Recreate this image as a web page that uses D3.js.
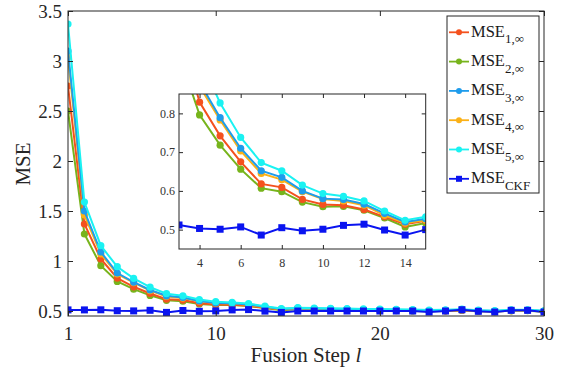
<!DOCTYPE html>
<html>
<head>
<meta charset="utf-8">
<script src="https://cdn.jsdelivr.net/npm/d3@7/dist/d3.min.js"></script>
<style>
  html, body { margin: 0; padding: 0; background: #fff; }
  svg { display: block; }
  text { font-family: "Liberation Serif", "DejaVu Serif", serif; }
</style>
</head>
<body>
<svg id="chart" width="562" height="369"></svg>
<script>
// ---------- data ----------
const steps = [1,2,3,4,5,6,7,8,9,10,11,12,13,14,15,16,17,18,19,20,21,22,23,24,25,26,27,28,29,30];
const mse1 = [2.75,1.37,1.02,0.829,0.742,0.675,0.618,0.609,0.578,0.565,0.563,0.552,0.533,0.514,0.523,
              0.516,0.513,0.510,0.508,0.506,0.505,0.503,0.499,0.502,0.507,0.500,0.496,0.504,0.505,0.495];
const mse2 = [2.50,1.27,0.953,0.796,0.718,0.656,0.607,0.598,0.571,0.559,0.560,0.550,0.530,0.507,0.517,
              0.512,0.510,0.507,0.505,0.504,0.503,0.501,0.497,0.500,0.505,0.498,0.494,0.502,0.503,0.493];
const mse3 = [3.10,1.50,1.09,0.880,0.789,0.710,0.652,0.635,0.600,0.580,0.578,0.566,0.542,0.520,0.528,
              0.524,0.521,0.518,0.515,0.513,0.511,0.509,0.505,0.507,0.512,0.504,0.499,0.508,0.509,0.499];
const mse4 = [3.04,1.46,1.07,0.870,0.783,0.703,0.645,0.629,0.598,0.579,0.574,0.563,0.537,0.517,0.524,
              0.520,0.518,0.515,0.512,0.510,0.508,0.506,0.502,0.505,0.510,0.502,0.497,0.506,0.507,0.497];
const mse5 = [3.37,1.59,1.153,0.943,0.827,0.738,0.673,0.652,0.615,0.593,0.586,0.574,0.548,0.524,0.533,
              0.530,0.527,0.524,0.521,0.519,0.517,0.514,0.509,0.512,0.518,0.508,0.503,0.512,0.512,0.502];
const mseCKF = [0.511,0.511,0.512,0.503,0.501,0.507,0.486,0.505,0.497,0.501,0.511,0.514,0.499,0.486,0.500,
                0.500,0.500,0.500,0.500,0.500,0.500,0.500,0.490,0.500,0.513,0.497,0.490,0.507,0.507,0.490];

const seriesNames = ["1,\u221E","2,\u221E","3,\u221E","4,\u221E","5,\u221E","CKF"];
const seriesValues = [mse1, mse2, mse3, mse4, mse5, mseCKF];
const seriesColors = ["#F4511E","#77B41C","#1E9CEC","#FBB117","#1AF2F2","#0A14F0"];

const mainXTicks = [1,10,20,30];
const mainYTicks = [0.5,1,1.5,2,2.5,3,3.5];
const insetXTicks = [4,6,8,10,12,14];
const insetYTicks = [0.5,0.6,0.7,0.8];

const series = seriesValues.map((vals, i) => ({
  name: seriesNames[i], color: seriesColors[i], square: i === 5,
  points: steps.map((s, j) => ({x: s, y: vals[j]}))
}));
// draw order: CKF last on top
const drawOrder = [1,0,3,2,4,5];

const svg = d3.select("#chart");
const axisColor = "#262626";

function drawPanel(g, x, y, opts) {
  const [x0, x1] = x.range();
  const [y0, y1] = y.range(); // y0 bottom, y1 top
  const clipId = opts.clipId;
  g.append("clipPath").attr("id", clipId).append("rect")
    .attr("x", x0).attr("y", y1).attr("width", x1 - x0).attr("height", y0 - y1);
  g.append("rect").attr("x", x0).attr("y", y1).attr("width", x1 - x0).attr("height", y0 - y1)
    .attr("fill", "#fff");

  const line = d3.line().x(d => x(d.x)).y(d => y(d.y));
  const plot = g.append("g").attr("clip-path", `url(#${clipId})`);
  drawOrder.forEach(i => {
    const s = series[i];
    const pts = s.points.filter(d => d.x >= x.domain()[0] - 1 && d.x <= x.domain()[1] + 1);
    plot.append("path").datum(pts).attr("fill", "none").attr("stroke", s.color)
      .attr("stroke-width", opts.lw).attr("d", line);
    const inPts = pts.filter(d => d.x >= x.domain()[0] && d.x <= x.domain()[1]);
    if (s.square) {
      plot.selectAll(null).data(inPts).enter().append("rect")
        .attr("x", d => x(d.x) - opts.sq / 2).attr("y", d => y(d.y) - opts.sq / 2)
        .attr("width", opts.sq).attr("height", opts.sq).attr("fill", s.color);
    } else {
      plot.selectAll(null).data(inPts).enter().append("circle")
        .attr("cx", d => x(d.x)).attr("cy", d => y(d.y)).attr("r", opts.r).attr("fill", s.color);
    }
  });

  // axes
  const ts = opts.tick;
  const ax = g.append("g").attr("transform", `translate(0,${y0})`)
    .call(d3.axisBottom(x).tickValues(opts.xTicks).tickSizeInner(-ts).tickSizeOuter(0)
      .tickPadding(opts.xPad).tickFormat(d3.format("")));
  const axTop = g.append("g").attr("transform", `translate(0,${y1})`)
    .call(d3.axisTop(x).tickValues(opts.xTicks).tickSizeInner(-ts).tickSizeOuter(0).tickFormat(""));
  const ay = g.append("g").attr("transform", `translate(${x0},0)`)
    .call(d3.axisLeft(y).tickValues(opts.yTicks).tickSizeInner(-ts).tickSizeOuter(0)
      .tickPadding(opts.yPad).tickFormat(d => d3.format("")(d)));
  const ayR = g.append("g").attr("transform", `translate(${x1},0)`)
    .call(d3.axisRight(y).tickValues(opts.yTicks).tickSizeInner(-ts).tickSizeOuter(0).tickFormat(""));
  [ax, axTop, ay, ayR].forEach(a => {
    a.select(".domain").remove();
    a.selectAll(".tick line").attr("stroke", axisColor);
    a.selectAll("text").attr("fill", opts.textColor).style("font-size", opts.fs + "px")
      .style("font-family", '"Liberation Serif", serif');
  });
  g.append("rect").attr("x", x0).attr("y", y1).attr("width", x1 - x0).attr("height", y0 - y1)
    .attr("fill", "none").attr("stroke", axisColor).attr("stroke-width", 1);
}

// ---------- main axes ----------
const xMain = d3.scaleLinear().domain([1, 30]).range([68, 544]);
const yMain = d3.scaleLinear().domain([0.45, 3.5]).range([316, 11]);
const gMain = svg.append("g");
drawPanel(gMain, xMain, yMain, {
  clipId: "clipMain", lw: 2, r: 3.6, sq: 7, tick: 5,
  xTicks: mainXTicks, yTicks: mainYTicks, xPad: 11, yPad: 6, fs: 19, textColor: "#262626"
});

// axis labels
svg.append("text").attr("x", 306).attr("y", 362).attr("text-anchor", "middle")
  .style("font-size", "21px").attr("fill", "#262626")
  .call(t => {
    t.append("tspan").text("Fusion Step ");
    t.append("tspan").style("font-style", "italic").text("l");
  });
svg.append("text").attr("transform", "translate(30,164) rotate(-90)").attr("text-anchor", "middle")
  .style("font-size", "21px").attr("fill", "#262626").text("MSE");

// ---------- inset ----------
const xIn = d3.scaleLinear().domain([3, 15]).range([179, 425.7]);
const yIn = d3.scaleLinear().domain([0.45, 0.85]).range([249, 94]);
const gIn = svg.append("g");
drawPanel(gIn, xIn, yIn, {
  clipId: "clipInset", lw: 2, r: 3.6, sq: 7, tick: 4,
  xTicks: insetXTicks, yTicks: insetYTicks, xPad: 9, yPad: 4, fs: 12, textColor: "#333"
});

// ---------- legend ----------
const leg = svg.append("g");
leg.append("rect").attr("x", 447).attr("y", 16).attr("width", 92).attr("height", 177)
  .attr("fill", "#fff").attr("stroke", axisColor).attr("stroke-width", 1);
series.forEach((s, i) => {
  const yy = 32.3 + i * 29.3;
  const row = leg.append("g");
  row.append("line").attr("x1", 449).attr("x2", 469).attr("y1", yy).attr("y2", yy)
    .attr("stroke", s.color).attr("stroke-width", 1.8);
  if (s.square) {
    row.append("rect").attr("x", 459 - 3).attr("y", yy - 3).attr("width", 6).attr("height", 6).attr("fill", s.color);
  } else {
    row.append("circle").attr("cx", 459).attr("cy", yy).attr("r", 3).attr("fill", s.color);
  }
  const t = row.append("text").attr("x", 471).attr("y", yy + 4.5).attr("fill", "#1a1a1a")
    .style("font-size", "16.5px");
  t.append("tspan").text("MSE");
  t.append("tspan").attr("dy", 6.5).style("font-size", "13px").text(s.name);
});
</script>
</body>
</html>
